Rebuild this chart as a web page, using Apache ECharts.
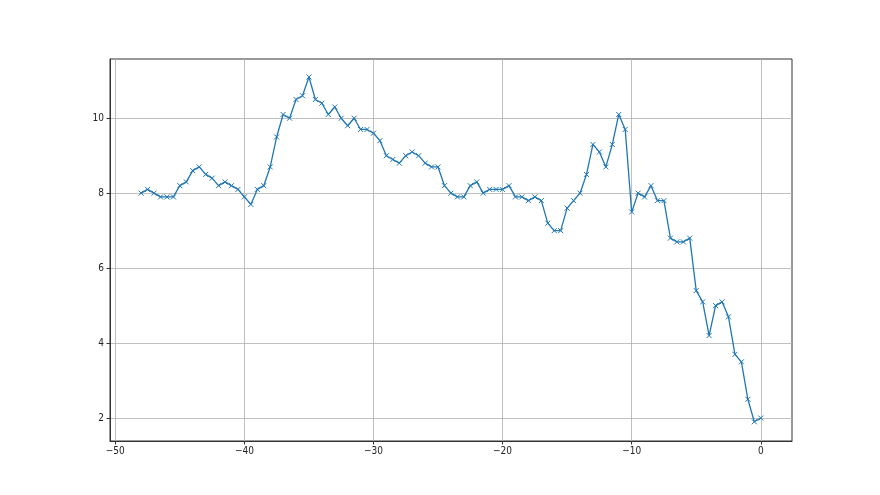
<!DOCTYPE html>
<html>
<head>
<meta charset="utf-8">
<script src="https://cdn.jsdelivr.net/npm/echarts@6/dist/echarts.min.js"></script>
<style>
html,body{margin:0;padding:0;background:#fff;}
#chart{width:880px;height:495px;}
</style>
</head>
<body>
<div id="chart"></div>
<script>
var xValues = [-48,-47.5,-47,-46.5,-46,-45.5,-45,-44.5,-44,-43.5,-43,-42.5,-42,-41.5,-41,-40.5,-40,-39.5,-39,-38.5,-38,-37.5,-37,-36.5,-36,-35.5,-35,-34.5,-34,-33.5,-33,-32.5,-32,-31.5,-31,-30.5,-30,-29.5,-29,-28.5,-28,-27.5,-27,-26.5,-26,-25.5,-25,-24.5,-24,-23.5,-23,-22.5,-22,-21.5,-21,-20.5,-20,-19.5,-19,-18.5,-18,-17.5,-17,-16.5,-16,-15.5,-15,-14.5,-14,-13.5,-13,-12.5,-12,-11.5,-11,-10.5,-10,-9.5,-9,-8.5,-8,-7.5,-7,-6.5,-6,-5.5,-5,-4.5,-4,-3.5,-3,-2.5,-2,-1.5,-1,-0.5,0];
var yValues = [8.0,8.1,8.0,7.9,7.9,7.9,8.2,8.3,8.6,8.7,8.5,8.4,8.2,8.3,8.2,8.1,7.9,7.7,8.1,8.2,8.7,9.5,10.1,10.0,10.5,10.6,11.1,10.5,10.4,10.1,10.3,10.0,9.8,10.0,9.7,9.7,9.6,9.4,9.0,8.9,8.8,9.0,9.1,9.0,8.8,8.7,8.7,8.2,8.0,7.9,7.9,8.2,8.3,8.0,8.1,8.1,8.1,8.2,7.9,7.9,7.8,7.9,7.8,7.2,7.0,7.0,7.6,7.8,8.0,8.5,9.3,9.1,8.7,9.3,10.1,9.7,7.5,8.0,7.9,8.2,7.8,7.8,6.8,6.7,6.7,6.8,5.4,5.1,4.2,5.0,5.1,4.7,3.7,3.5,2.5,1.9,2.0];
var xTicks = [-50,-40,-30,-20,-10,0];
var yTicks = [2,4,6,8,10];

var points = xValues.map(function(x,i){return [x,yValues[i]];});
var fontFam = '"Liberation Sans Narrow","DejaVu Sans Condensed","DejaVu Sans",sans-serif';
function fmt(v){ return (v<0 ? '\u2212' + Math.abs(v) : String(v)); }

var chart = echarts.init(document.getElementById('chart'), null, {renderer:'canvas'});
chart.setOption({
  animation:false,
  backgroundColor:'#ffffff',
  grid:{left:110, right:88, top:59, bottom:54, show:true, borderColor:'#333', borderWidth:1, backgroundColor:'transparent'},
  xAxis:{
    type:'value', min:-50.41, max:2.42,
    axisLine:{show:true, onZero:false, lineStyle:{color:'#333', width:1}},
    axisTick:{show:true, inside:false, length:3.5, lineStyle:{color:'#333', width:1}, customValues:xTicks},
    axisLabel:{show:true, margin:5, color:'#222', fontSize:10, fontFamily:fontFam, customValues:xTicks, formatter:fmt},
    splitLine:{show:true, lineStyle:{color:'#b0b0b0', width:0.8}}
  },
  yAxis:{
    type:'value', min:1.387, max:11.58,
    axisLine:{show:true, onZero:false, lineStyle:{color:'#333', width:1}},
    axisTick:{show:true, inside:false, length:3.5, lineStyle:{color:'#333', width:1}, customValues:yTicks},
    axisLabel:{show:true, margin:6, color:'#222', fontSize:10, fontFamily:fontFam, customValues:yTicks, formatter:fmt},
    splitLine:{show:true, lineStyle:{color:'#b0b0b0', width:0.8}}
  },
  series:[{
    type:'line',
    data:points,
    symbol:'path://M0,0L10,10M10,0L0,10',
    symbolSize:5,
    showAllSymbol:true,
    lineStyle:{color:'#1f77b4', width:1.3},
    itemStyle:{color:'#1f77b4', borderColor:'#1f77b4', borderWidth:1},
    emphasis:{disabled:true}
  }]
});
</script>
</body>
</html>
